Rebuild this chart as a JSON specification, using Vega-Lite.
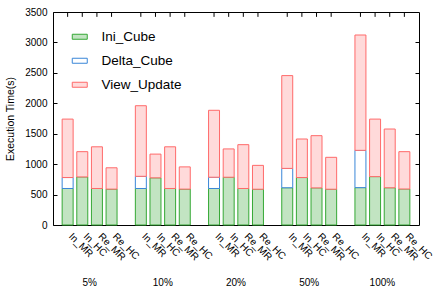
{
  "$schema": "https://vega.github.io/schema/vega-lite/v6.json",
  "width": 366,
  "height": 213,
  "autosize": {"type": "none"},
  "padding": {"left": 53, "top": 12, "right": 17, "bottom": 69},
  "background": "white",
  "config": {
    "font": "Liberation Sans",
    "view": {"stroke": "black", "strokeWidth": 1},
    "legend": {
      "orient": "none",
      "legendX": 20,
      "legendY": 18,
      "direction": "vertical",
      "symbolType": "M-1.5,-0.5H1.5V0.5H-1.5Z",
      "symbolSize": 100,
      "symbolStrokeWidth": 1,
      "labelFontSize": 13.5,
      "labelOffset": 15,
      "labelColor": "black",
      "rowPadding": 9,
      "padding": 0
    }
  },
  "data": {
    "values": [
      {"group": "5%", "config": "In_MR", "series": "Ini_Cube", "value": 600},
      {"group": "5%", "config": "In_MR", "series": "Delta_Cube", "value": 180},
      {"group": "5%", "config": "In_MR", "series": "View_Update", "value": 960},
      {"group": "5%", "config": "In_HC", "series": "Ini_Cube", "value": 790},
      {"group": "5%", "config": "In_HC", "series": "View_Update", "value": 415},
      {"group": "5%", "config": "Re_MR", "series": "Ini_Cube", "value": 600},
      {"group": "5%", "config": "Re_MR", "series": "View_Update", "value": 685},
      {"group": "5%", "config": "Re_HC", "series": "Ini_Cube", "value": 590},
      {"group": "5%", "config": "Re_HC", "series": "View_Update", "value": 350},
      {"group": "10%", "config": "In_MR", "series": "Ini_Cube", "value": 600},
      {"group": "10%", "config": "In_MR", "series": "Delta_Cube", "value": 200},
      {"group": "10%", "config": "In_MR", "series": "View_Update", "value": 1160},
      {"group": "10%", "config": "In_HC", "series": "Ini_Cube", "value": 775},
      {"group": "10%", "config": "In_HC", "series": "View_Update", "value": 390},
      {"group": "10%", "config": "Re_MR", "series": "Ini_Cube", "value": 600},
      {"group": "10%", "config": "Re_MR", "series": "View_Update", "value": 685},
      {"group": "10%", "config": "Re_HC", "series": "Ini_Cube", "value": 590},
      {"group": "10%", "config": "Re_HC", "series": "View_Update", "value": 365},
      {"group": "20%", "config": "In_MR", "series": "Ini_Cube", "value": 600},
      {"group": "20%", "config": "In_MR", "series": "Delta_Cube", "value": 185},
      {"group": "20%", "config": "In_MR", "series": "View_Update", "value": 1100},
      {"group": "20%", "config": "In_HC", "series": "Ini_Cube", "value": 785},
      {"group": "20%", "config": "In_HC", "series": "View_Update", "value": 465},
      {"group": "20%", "config": "Re_MR", "series": "Ini_Cube", "value": 600},
      {"group": "20%", "config": "Re_MR", "series": "View_Update", "value": 720},
      {"group": "20%", "config": "Re_HC", "series": "Ini_Cube", "value": 588},
      {"group": "20%", "config": "Re_HC", "series": "View_Update", "value": 392},
      {"group": "50%", "config": "In_MR", "series": "Ini_Cube", "value": 612},
      {"group": "50%", "config": "In_MR", "series": "Delta_Cube", "value": 318},
      {"group": "50%", "config": "In_MR", "series": "View_Update", "value": 1525},
      {"group": "50%", "config": "In_HC", "series": "Ini_Cube", "value": 780},
      {"group": "50%", "config": "In_HC", "series": "View_Update", "value": 633},
      {"group": "50%", "config": "Re_MR", "series": "Ini_Cube", "value": 610},
      {"group": "50%", "config": "Re_MR", "series": "View_Update", "value": 858},
      {"group": "50%", "config": "Re_HC", "series": "Ini_Cube", "value": 588},
      {"group": "50%", "config": "Re_HC", "series": "View_Update", "value": 524},
      {"group": "100%", "config": "In_MR", "series": "Ini_Cube", "value": 614},
      {"group": "100%", "config": "In_MR", "series": "Delta_Cube", "value": 613},
      {"group": "100%", "config": "In_MR", "series": "View_Update", "value": 1895},
      {"group": "100%", "config": "In_HC", "series": "Ini_Cube", "value": 795},
      {"group": "100%", "config": "In_HC", "series": "View_Update", "value": 945},
      {"group": "100%", "config": "Re_MR", "series": "Ini_Cube", "value": 612},
      {"group": "100%", "config": "Re_MR", "series": "View_Update", "value": 965},
      {"group": "100%", "config": "Re_HC", "series": "Ini_Cube", "value": 592},
      {"group": "100%", "config": "Re_HC", "series": "View_Update", "value": 613}
    ]
  },
  "encoding": {
    "x": {
      "field": "group",
      "type": "nominal",
      "sort": ["5%", "10%", "20%", "50%", "100%"],
      "scale": {"paddingInner": 0.2, "paddingOuter": 0.1},
      "axis": {
        "title": null,
        "ticks": false,
        "domain": false,
        "labelAngle": 0,
        "labelPadding": 52,
        "labelFontSize": 10,
        "labelColor": "black"
      }
    },
    "xOffset": {
      "field": "config",
      "type": "nominal",
      "sort": ["In_MR", "In_HC", "Re_MR", "Re_HC"],
      "scale": {"paddingInner": 0.25, "paddingOuter": 0.125}
    }
  },
  "layer": [
    {
      "transform": [
        {"calculate": "indexof(['Ini_Cube', 'Delta_Cube', 'View_Update'], datum.series)", "as": "stackOrder"}
      ],
      "mark": {"type": "bar", "strokeWidth": 1},
      "encoding": {
        "y": {
          "field": "value",
          "type": "quantitative",
          "stack": "zero",
          "scale": {"domain": [0, 3500], "nice": false},
          "axis": {
            "title": "Execution Time(s)",
            "titleFontSize": 10.5,
            "titleFontWeight": "normal",
            "titleColor": "black",
            "titlePadding": 9,
            "values": [0, 500, 1000, 1500, 2000, 2500, 3000, 3500],
            "format": "d",
            "grid": false,
            "domain": false,
            "tickSize": -4,
            "tickColor": "black",
            "labelPadding": 10,
            "labelFontSize": 10,
            "labelColor": "black"
          }
        },
        "order": {"field": "stackOrder", "type": "quantitative", "sort": "ascending"},
        "fill": {
          "field": "series",
          "type": "nominal",
          "sort": ["Ini_Cube", "Delta_Cube", "View_Update"],
          "scale": {"domain": ["Ini_Cube", "Delta_Cube", "View_Update"], "range": ["#c2e4c2", "#ffffff", "#ffdada"]},
          "legend": {"title": null}
        },
        "stroke": {
          "field": "series",
          "type": "nominal",
          "sort": ["Ini_Cube", "Delta_Cube", "View_Update"],
          "scale": {"domain": ["Ini_Cube", "Delta_Cube", "View_Update"], "range": ["#35a835", "#3a86d8", "#ff6a6a"]},
          "legend": {"title": null}
        }
      }
    },
    {
      "transform": [{"filter": "datum.series === 'Ini_Cube'"}],
      "mark": {"type": "text", "angle": 45, "align": "left", "baseline": "middle", "dx": 9, "dy": 5, "fontSize": 10, "color": "black"},
      "encoding": {
        "y": {"datum": 0, "axis": null},
        "text": {"field": "config"}
      }
    },
    {
      "transform": [{"filter": "datum.series === 'Ini_Cube'"}],
      "mark": {"type": "rule", "color": "black", "strokeWidth": 1},
      "encoding": {
        "y": {
          "datum": 3500,
          "axis": {
            "orient": "right",
            "title": null,
            "labels": false,
            "domain": false,
            "grid": false,
            "tickSize": -4,
            "tickColor": "black",
            "values": [500, 1000, 1500, 2000, 2500, 3000]
          }
        },
        "y2": {"datum": 3420}
      }
    }
  ],
  "resolve": {"axis": {"y": "independent"}}
}
